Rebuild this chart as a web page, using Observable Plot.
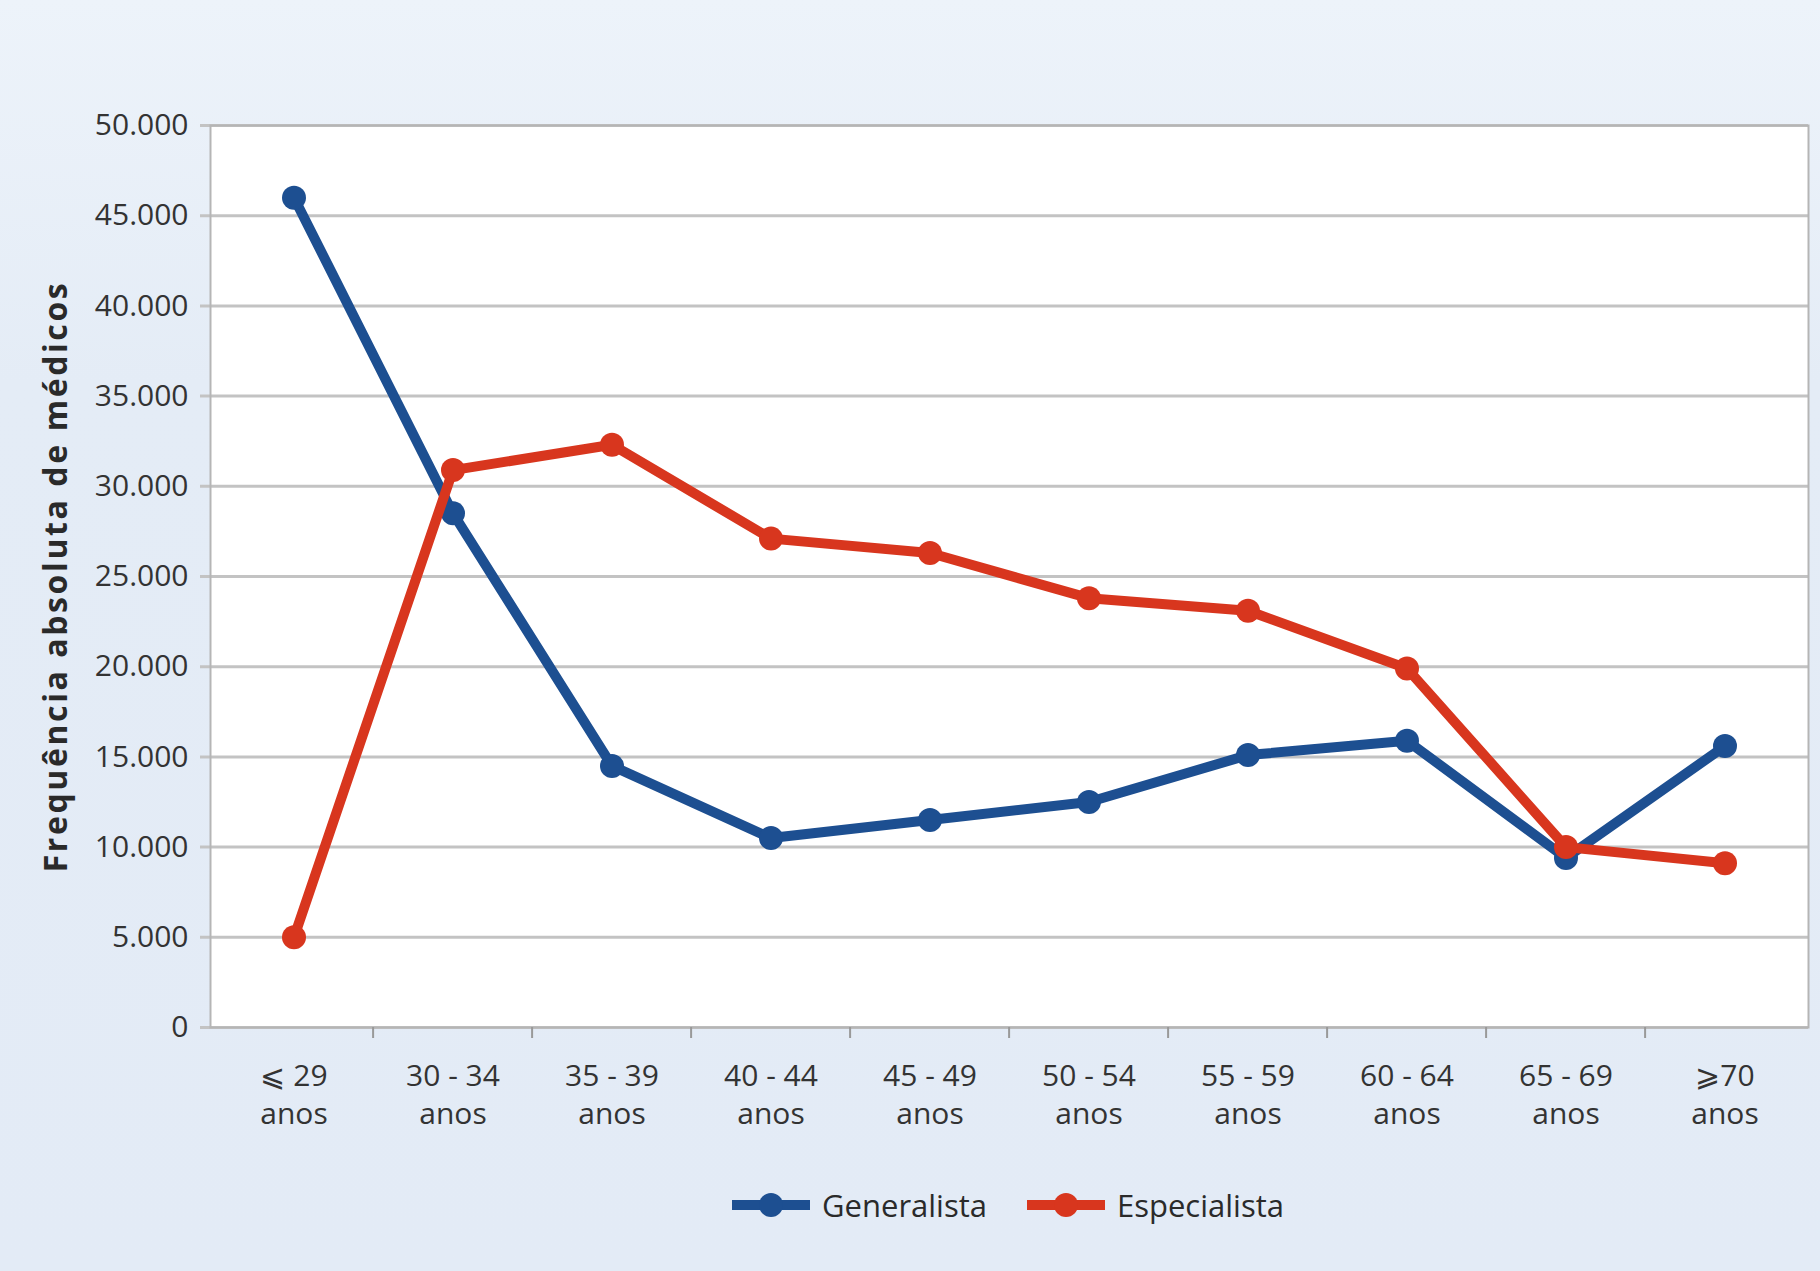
<!DOCTYPE html>
<html>
<head>
<meta charset="utf-8">
<script src="https://cdn.jsdelivr.net/npm/d3@7"></script>
<script src="https://cdn.jsdelivr.net/npm/@observablehq/plot@0.6"></script>
<style>
  html, body { margin: 0; padding: 0; }
  body {
    width: 1820px; height: 1271px; overflow: hidden;
    background: linear-gradient(180deg, #edf3fa 0%, #e4ecf6 30%, #e3ebf6 100%);
    font-family: "Open Sans", "Noto Sans", sans-serif;
  }
  #chart svg { display: block; background: transparent; }
  #chart g[aria-label="y-axis label"] text { font-weight: 700; font-size: 32px; letter-spacing: 2.6px; fill: #2a2a2a; }
  #legend {
    display: flex; justify-content: center; align-items: center; gap: 38px;
    height: 110px; margin-left: 194px; margin-top: 0px;
    font-size: 31px; color: #2a2a2a;
  }
  #legend .item { display: flex; align-items: center; gap: 10px; }
</style>
</head>
<body>
<div id="chart"></div>
<div id="legend"></div>
<script>
const categories = ["le29", "30-34", "35-39", "40-44", "45-49", "50-54", "55-59", "60-64", "65-69", "ge70"];
const tickLabels = ["⩽ 29\nanos", "30 - 34\nanos", "35 - 39\nanos", "40 - 44\nanos", "45 - 49\nanos",
                    "50 - 54\nanos", "55 - 59\nanos", "60 - 64\nanos", "65 - 69\nanos", "⩾70\nanos"];
const generalista = [46000, 28500, 14500, 10500, 11500, 12500, 15100, 15900, 9400, 15600];
const especialista = [5000, 30900, 32300, 27100, 26300, 23800, 23100, 19900, 10000, 9100];
const yTicks = [0, 5000, 10000, 15000, 20000, 25000, 30000, 35000, 40000, 45000, 50000];
const seriesNames = ["Generalista", "Especialista"];
const seriesColors = ["#1d4f91", "#d8361e"];
const yLabel = "Frequência absoluta de médicos";

const rows = categories.flatMap((c, i) => [
  {age: c, serie: seriesNames[0], v: generalista[i]},
  {age: c, serie: seriesNames[1], v: especialista[i]}
]);

const W = 1820, H = 1150;
const mL = 210, mR = 12, mT = 125, mB = 123;
const bw = (W - mL - mR) / categories.length;
const fmt = d3.formatLocale({decimal: ",", thousands: ".", grouping: [3], currency: ["", ""]}).format(",");
const labelOf = new Map(categories.map((c, i) => [c, tickLabels[i]]));

const seriesMarks = seriesNames.flatMap(s => [
  Plot.line(rows.filter(d => d.serie === s), {x: "age", y: "v", stroke: "serie", strokeWidth: 10, strokeLinejoin: "round", strokeLinecap: "round"}),
  Plot.dot(rows.filter(d => d.serie === s), {x: "age", y: "v", fill: "serie", r: 12})
]);

const chart = Plot.plot({
  width: W, height: H,
  marginLeft: mL, marginRight: mR, marginTop: mT, marginBottom: mB,
  style: {fontFamily: "'Open Sans', 'Noto Sans', sans-serif", fontSize: "30px", color: "#333", background: "transparent"},
  x: {type: "band", domain: categories, padding: 0},
  y: {domain: [0, 50000]},
  color: {domain: seriesNames, range: seriesColors},
  marks: [
    Plot.frame({fill: "white", stroke: "none"}),
    Plot.ruleY(yTicks, {stroke: "#c3c3c3", strokeWidth: 3, insetLeft: -10}),
    Plot.frame({stroke: "#b5b5b5", strokeWidth: 2}),
    Plot.ruleX(categories.slice(1), {x: d => d, y1: 0, y2: 0, insetBottom: -11, dx: -bw / 2, stroke: "#999", strokeWidth: 2}),
    Plot.axisY({ticks: yTicks, tickSize: 0, tickPadding: 22, tickFormat: fmt,
      fill: "#333", label: yLabel, labelAnchor: "center", labelOffset: 166, labelArrow: "none"}),
    Plot.axisX({tickSize: 0, tickPadding: 32, tickFormat: d => labelOf.get(d), lineHeight: 1.25, fill: "#333", label: null}),
    ...seriesMarks
  ]
});
document.getElementById("chart").appendChild(chart);

const legend = document.getElementById("legend");
seriesNames.forEach((s, i) => {
  const item = document.createElement("div");
  item.className = "item";
  item.innerHTML = `<svg width="82" height="30"><line x1="2" y1="15" x2="80" y2="15" stroke="${seriesColors[i]}" stroke-width="10"/><circle cx="41" cy="15" r="12" fill="${seriesColors[i]}"/></svg><span>${s}</span>`;
  legend.appendChild(item);
});
</script>
</body>
</html>
